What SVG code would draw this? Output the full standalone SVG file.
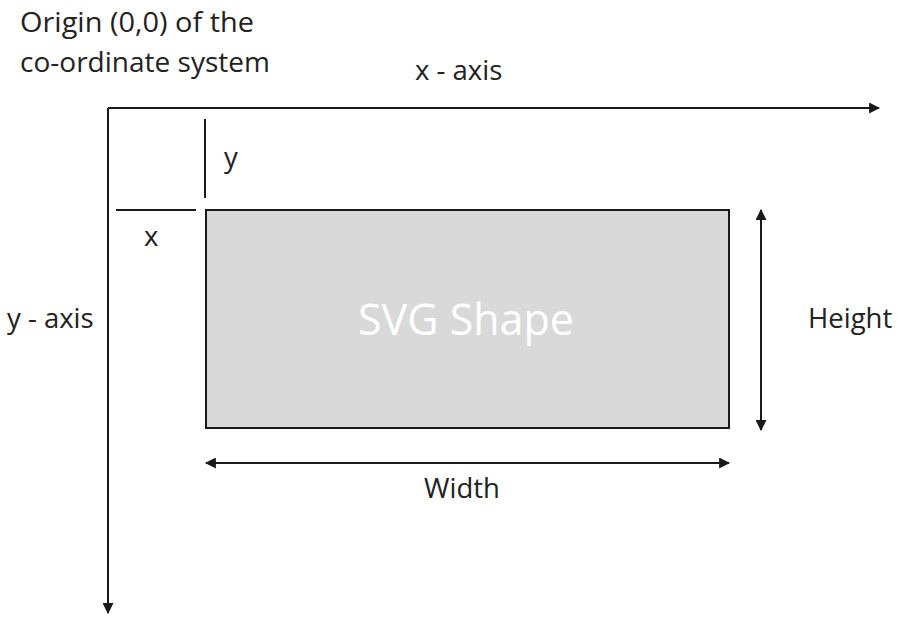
<svg xmlns="http://www.w3.org/2000/svg" width="899" height="618" viewBox="0 0 899 618">
<defs>
<style>
text{font-family:"Open Sans","Noto Sans",sans-serif;fill:#222;font-size:27.5px}
.ln{stroke:#1a1a1a;stroke-width:2;fill:none}
</style>
<marker id="ah" viewBox="0 0 10 10" refX="9" refY="5" markerWidth="5.5" markerHeight="5.5" orient="auto-start-reverse" markerUnits="strokeWidth">
<path d="M0,0 L10,5 L0,10 z" fill="#1a1a1a"/>
</marker>
</defs>
<rect width="899" height="618" fill="#fff"/>
<g id="labels">
<text x="20" y="32" textLength="234" lengthAdjust="spacingAndGlyphs">Origin (0,0) of the</text>
<text x="20" y="72" textLength="250" lengthAdjust="spacingAndGlyphs">co-ordinate system</text>
<text x="415" y="80">x - axis</text>
<text x="7" y="328">y - axis</text>
<text x="224" y="167">y</text>
<text x="144" y="246">x</text>
<text x="808" y="328">Height</text>
<text x="462" y="498" text-anchor="middle">Width</text>
</g>
<g id="shape">
<rect x="206" y="210" width="523" height="218" fill="#d9d9d9" stroke="#1a1a1a" stroke-width="2"/>
<text x="466" y="335" text-anchor="middle" style="fill:#fff;font-size:43px">SVG Shape</text>
</g>
<g id="connectors">
<path class="ln" d="M108,108 H879" marker-end="url(#ah)"/>
<path class="ln" d="M108,108 V613" marker-end="url(#ah)"/>
<path class="ln" d="M205,119 V198"/>
<path class="ln" d="M116,210 H196"/>
<path class="ln" d="M761,210 V430" marker-start="url(#ah)" marker-end="url(#ah)"/>
<path class="ln" d="M206,463 H729" marker-start="url(#ah)" marker-end="url(#ah)"/>
</g>
</svg>
